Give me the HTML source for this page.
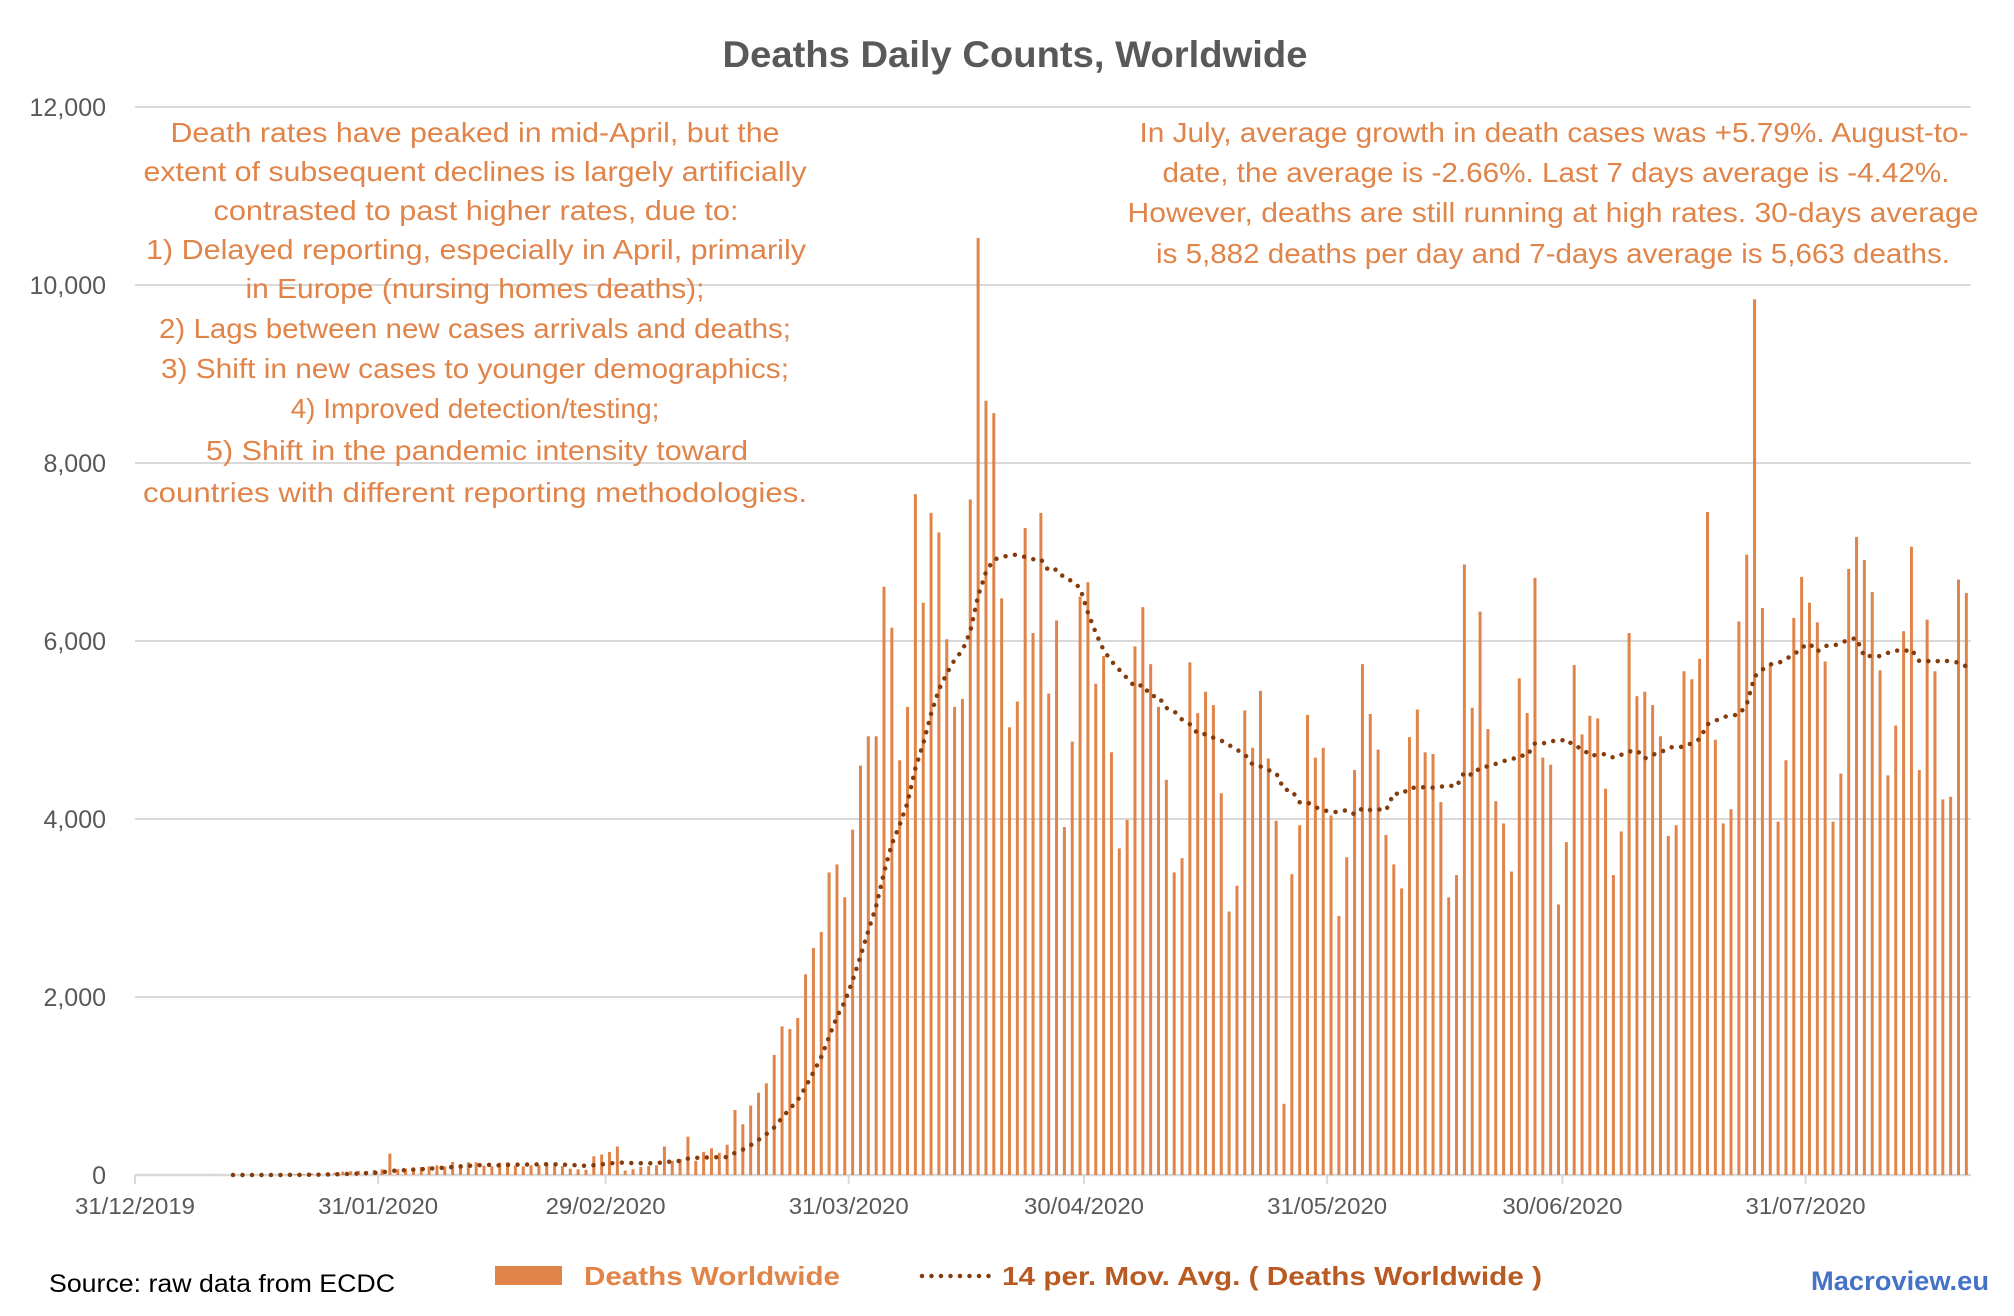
<!DOCTYPE html>
<html><head><meta charset="utf-8"><style>
html,body{margin:0;padding:0;background:#fff;}
svg{display:block;font-family:"Liberation Sans",sans-serif;}
.ann text{font-size:28px;}
#l4{position:absolute;left:0;top:392px;width:950px;text-align:center;font-family:"Liberation Sans",sans-serif;font-size:28px;line-height:34px;color:#e0844a;white-space:nowrap;}
</style></head><body>
<div style="position:relative;width:2014px;height:1316px;">
<svg id="chart" width="2014" height="1316" viewBox="0 0 2014 1316" xmlns="http://www.w3.org/2000/svg">
<text x="1015" y="67" text-anchor="middle" font-size="37" font-weight="bold" fill="#595959" textLength="585" lengthAdjust="spacingAndGlyphs">Deaths Daily Counts, Worldwide</text>
<g id="grid"></g>
<g id="yaxis"></g>
<g id="xaxis"></g>
<g id="bars"></g>
<path id="ma" fill="none" stroke="#843c0c" stroke-width="4.5" stroke-linecap="round" stroke-dasharray="0 9.5"/>
<g class="ann" fill="#e0844a" text-anchor="middle">
<text x="475" y="142" textLength="609" lengthAdjust="spacingAndGlyphs">Death rates have peaked in mid-April, but the</text>
<text x="475" y="181" textLength="663" lengthAdjust="spacingAndGlyphs">extent of subsequent declines is largely artificially</text>
<text x="476" y="220" textLength="525" lengthAdjust="spacingAndGlyphs">contrasted to past higher rates, due to:</text>
<text x="476" y="259" textLength="660" lengthAdjust="spacingAndGlyphs">1) Delayed reporting, especially in April, primarily</text>
<text x="475" y="298" textLength="459" lengthAdjust="spacingAndGlyphs">in Europe (nursing homes deaths);</text>
<text x="475" y="338" textLength="632" lengthAdjust="spacingAndGlyphs">2) Lags between new cases arrivals and deaths;</text>
<text x="475" y="378" textLength="628" lengthAdjust="spacingAndGlyphs">3) Shift in new cases to younger demographics;</text>
<text x="477" y="460" textLength="542" lengthAdjust="spacingAndGlyphs">5) Shift in the pandemic intensity toward</text>
<text x="475" y="502" textLength="664" lengthAdjust="spacingAndGlyphs">countries with different reporting methodologies.</text>
</g>
<g class="ann" fill="#e0844a" text-anchor="middle">
<text x="1554" y="142" textLength="829" lengthAdjust="spacingAndGlyphs">In July, average growth in death cases was +5.79%. August-to-</text>
<text x="1556" y="182" textLength="787" lengthAdjust="spacingAndGlyphs">date, the average is -2.66%. Last 7 days average is -4.42%.</text>
<text x="1553" y="222" textLength="851" lengthAdjust="spacingAndGlyphs">However, deaths are still running at high rates. 30-days average</text>
<text x="1553" y="263" textLength="794" lengthAdjust="spacingAndGlyphs">is 5,882 deaths per day and 7-days average is 5,663 deaths.</text>
</g>
<text x="49" y="1292" font-size="25" fill="#000" textLength="346" lengthAdjust="spacingAndGlyphs">Source: raw data from ECDC</text>
<g>
<rect x="495" y="1266" width="67" height="19" fill="#e0844a"/>
<text x="584" y="1285" font-size="26" font-weight="bold" fill="#e0844a" textLength="256" lengthAdjust="spacingAndGlyphs">Deaths Worldwide</text>
<line x1="922" y1="1276" x2="994" y2="1276" stroke="#843c0c" stroke-width="4.5" stroke-linecap="round" stroke-dasharray="0 9.5"/>
<text x="1002" y="1285" font-size="26" font-weight="bold" fill="#b85a22" textLength="540" lengthAdjust="spacingAndGlyphs">14 per. Mov. Avg. (  Deaths Worldwide )</text>
</g>
<text x="1811" y="1290" font-size="27" font-weight="bold" fill="#4472c4" textLength="178" lengthAdjust="spacingAndGlyphs">Macroview.eu</text>
</svg>
<div id="l4">4) Improved detection/testing;</div>
</div>
<script>
const deaths = [
0,0,0,0,0,0,0,0,0,0,
1,0,0,0,0,0,0,1,0,0,
6,9,8,16,14,26,26,38,43,46,
45,57,64,240,66,73,86,89,97,108,
97,146,121,143,142,105,98,139,143,104,
98,109,114,118,109,100,71,64,59,210,
230,260,320,50,65,90,100,110,320,160,
180,430,160,260,300,250,
340,730,570,780,925,1030,1350,1670,1640,1765,
2255,2550,2730,3400,3490,3120,3880,4600,4930,4930,
6610,6150,4660,5260,7650,6430,7440,7220,6020,5260,
5350,7590,10530,8700,8560,6480,5030,5320,7270,6090,
7440,5410,6230,3910,4870,6500,6660,5520,5830,4750,
3670,3990,5940,6380,5740,5260,4440,3400,3560,5760,
5190,5430,5280,4290,2960,3250,5220,4800,5440,4680,
3980,800,3380,3930,5170,4690,4800,4040,2910,3570,
4550,5740,5180,4780,3820,3490,3220,4920,5230,4750,
4730,4190,3120,3370,6860,5250,6330,5010,4200,3950,
3410,5580,5190,6710,4690,4610,3040,3740,5730,4950,
5160,5130,4340,3370,3860,6090,5380,5430,5280,4930,
3810,3930,5660,5570,5800,7450,4890,3950,4110,6220,
6970,9840,6370,5750,3970,4660,6260,6720,6430,6210,
5770,3970,4510,6810,7170,6910,6550,5670,4490,5050,
6110,7060,4550,6240,5660,4220,4250,6690,6540
];
const yTicks = [0,2000,4000,6000,8000,10000,12000];
const yTickLabels = ["0","2,000","4,000","6,000","8,000","10,000","12,000"];
const xTickDays = [0,31,60,91,121,152,182,213];
const xTickLabels = ["31/12/2019","31/01/2020","29/02/2020","31/03/2020","30/04/2020","31/05/2020","30/06/2020","31/07/2020"];
const maPeriod = 14;

const NS="http://www.w3.org/2000/svg";
const X0=135, PX_DAY=7.843, Y0=1175, YTOP=107, YMAX=12000, XR=1971;
const xScale=d=>X0+d*PX_DAY;
const yScale=v=>Y0-(v/YMAX)*(Y0-YTOP);
function mk(t,a,p){const e=document.createElementNS(NS,t);for(const k in a)e.setAttribute(k,a[k]);p.appendChild(e);return e;}

const grid=document.getElementById('grid'), yax=document.getElementById('yaxis'), xax=document.getElementById('xaxis');
yTicks.forEach((v,i)=>{
  if(v>0){const l=mk('line',{x1:X0,x2:XR,y1:yScale(v),y2:yScale(v),stroke:'#d9d9d9','stroke-width':2},grid);
  
  }
  const t=mk('text',{x:106,y:yScale(v)+9,'text-anchor':'end','font-size':25,fill:'#595959'},yax);
  t.textContent=yTickLabels[i];
  
  
});
const ax=mk('line',{x1:X0,x2:XR,y1:Y0,y2:Y0,stroke:'#d9d9d9','stroke-width':2.5},xax);


xTickDays.forEach((d,i)=>{
  const tk=mk('line',{x1:xScale(d),x2:xScale(d),y1:Y0,y2:Y0+9,stroke:'#d9d9d9','stroke-width':2},xax);
  
  
  const t=mk('text',{x:xScale(d),y:1214,'text-anchor':'middle','font-size':23,fill:'#595959',textLength:120,lengthAdjust:'spacingAndGlyphs'},xax);
  t.textContent=xTickLabels[i];
  
  
});
const bars=document.getElementById('bars');
deaths.forEach((v,i)=>{
  if(v<=0)return;
  const cx=xScale(i-0.5);
  const r=mk('rect',{x:cx-1.5,y:yScale(v),width:3,height:Y0-yScale(v),fill:'#e0844a'},bars);
  
  
});
let pts=[];
for(let i=13;i<deaths.length;i++){
  if(i<maPeriod-1)continue;
  let s=0;for(let k=i-maPeriod+1;k<=i;k++)s+=deaths[k];
  pts.push([xScale(i-0.5),yScale(s/maPeriod)]);
}
document.getElementById('ma').setAttribute('d','M'+pts.map(p=>p[0].toFixed(1)+','+p[1].toFixed(1)).join(' L'));
</script>
</body></html>
